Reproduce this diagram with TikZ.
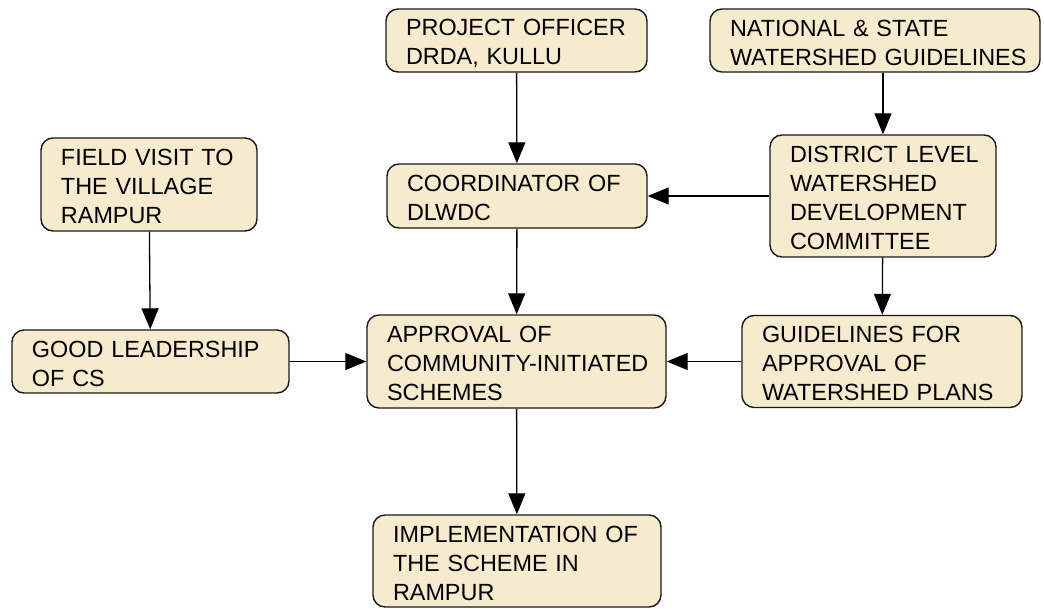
\documentclass[tikz,border=0pt]{standalone}
\usepackage{fontspec}
\setmainfont{Liberation Sans}
\usepackage{xcolor}
\usetikzlibrary{positioning}
\usetikzlibrary{shapes,arrows.meta}

\definecolor{stagefill}{HTML}{F7EBCE}
\tikzset{
  stage/.style={draw=black!90, line width=1.4pt, fill=stagefill, rounded corners=12pt,
    inner xsep=0pt, inner ysep=0pt, align=left,
    font=\fontsize{23.4}{29}\selectfont,
    execute at begin node={\leftskip=20pt\rule{0pt}{21pt}}},
  flow/.style={line width=1.3pt, -{Triangle[length=21pt,width=17pt]}}
}

\begin{document}
\begin{tikzpicture}[x=1pt,y=-1pt]
  \useasboundingbox (0,0) rectangle (1044,608);
  \node(po) [stage, text width=261pt, minimum height=63pt] at (516.5,40.5) {PROJECT OFFICER\\DRDA, KULLU};
  \node(nsg) [stage, text width=330pt, minimum height=63pt] at (875,40.5) {NATIONAL \& STATE\\WATERSHED GUIDELINES};
  \node(field) [stage, text width=216pt, minimum height=93pt] at (149,184.5) {FIELD VISIT TO\\THE VILLAGE\\RAMPUR};
  \node(coord) [stage, text width=260pt, minimum height=64pt] at (517,196) {COORDINATOR OF\\DLWDC};
  \node(dlwdc) [stage, text width=226pt, minimum height=122pt] at (883,196) {DISTRICT LEVEL\\WATERSHED\\DEVELOPMENT\\COMMITTEE};
  \node(good) [stage, text width=277pt, minimum height=63pt] at (150.5,361.5) {GOOD LEADERSHIP\\OF CS};
  \node(appr) [stage, text width=299pt, minimum height=93pt] at (516.5,361.5) {APPROVAL OF\\COMMUNITY-INITIATED\\SCHEMES};
  \node(gfa) [stage, text width=280pt, minimum height=92pt] at (882,361.5) {GUIDELINES FOR\\APPROVAL OF\\WATERSHED PLANS};
  \node(impl) [stage, text width=288pt, minimum height=92pt] at (517,561) {IMPLEMENTATION OF\\THE SCHEME IN\\RAMPUR};
  \draw[flow] (po) -- (coord);
  \draw[flow] (nsg.south -| dlwdc) -- (dlwdc);
  \draw[flow] (dlwdc) -- (coord);
  \draw[flow] (dlwdc) -- (gfa);
  \draw[flow] (field) -- (good);
  \draw[flow] (coord) -- (appr);
  \draw[flow] (good) -- (appr);
  \draw[flow] (gfa) -- (appr);
  \draw[flow] (appr) -- (impl);
\end{tikzpicture}
\end{document}
